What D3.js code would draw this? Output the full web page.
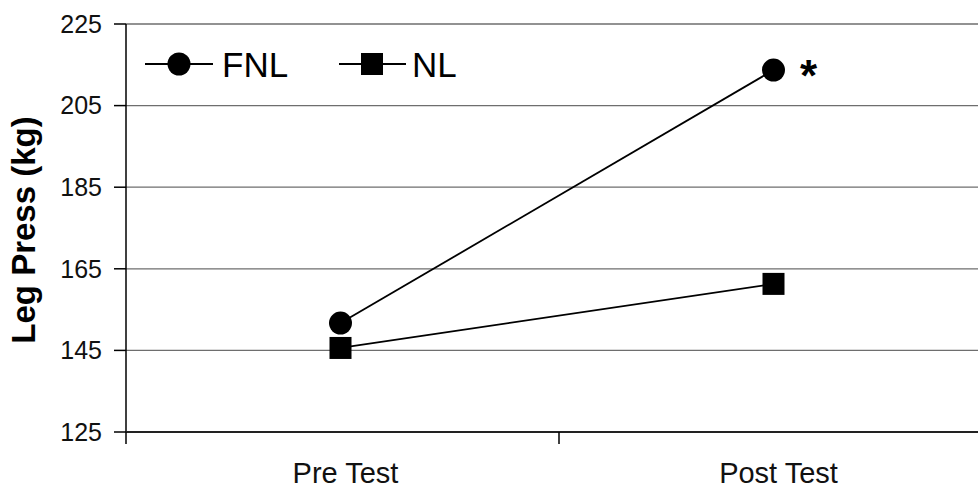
<!DOCTYPE html>
<html>
<head>
<meta charset="utf-8">
<script src="https://cdn.jsdelivr.net/npm/d3@7"></script>
<style>
  body { margin: 0; background: #fff; }
  svg { display: block; font-family: "Liberation Sans", Arial, sans-serif; }
</style>
</head>
<body>
<div id="chart"></div>
<script>
// Leg press pre/post, two groups
const phases = ['Pre Test', 'Post Test'];
const fnl = [151.7, 213.7];
const nl = [145.6, 161.3];
const yTicks = [125, 145, 165, 185, 205, 225];

const width = 978, height = 488;
const margin = { top: 24, right: -14, bottom: 56, left: 126 };
const innerW = width - margin.left - margin.right;
const innerH = height - margin.top - margin.bottom;

const svg = d3.select('#chart').append('svg')
  .attr('width', width).attr('height', height);
const g = svg.append('g').attr('transform', `translate(${margin.left},${margin.top})`);

const x = d3.scaleBand().domain(phases).range([0, innerW]);
const y = d3.scaleLinear().domain([125, 225]).range([innerH, 0]);

// gridlines
g.selectAll('line.grid').data(yTicks.slice(1)).join('line')
  .attr('class', 'grid')
  .attr('x1', 0).attr('x2', width - margin.left)
  .attr('y1', (d) => y(d)).attr('y2', (d) => y(d))
  .attr('stroke', '#6e6e6e').attr('stroke-width', 1.3);

// y axis
g.append('line').attr('x1', 0).attr('x2', 0).attr('y1', 0).attr('y2', innerH)
  .attr('stroke', '#000').attr('stroke-width', 1.5);
const yt = g.selectAll('g.yt').data(yTicks).join('g')
  .attr('transform', (d) => `translate(0,${y(d)})`);
yt.append('line').attr('x1', -12).attr('x2', 0).attr('stroke', '#000').attr('stroke-width', 1.5);
yt.append('text').attr('x', -24).attr('dy', '0.35em').attr('text-anchor', 'end')
  .attr('font-size', 25).attr('fill', '#111').text((d) => d);

// x axis
g.append('line').attr('x1', 0).attr('x2', width - margin.left).attr('y1', innerH).attr('y2', innerH)
  .attr('stroke', '#222').attr('stroke-width', 2);
const xEdges = [0, x.step()];
g.selectAll('line.xt').data(xEdges).join('line')
  .attr('class', 'xt')
  .attr('x1', (d) => d).attr('x2', (d) => d)
  .attr('y1', innerH).attr('y2', innerH + 12)
  .attr('stroke', '#000').attr('stroke-width', 1.5);
g.selectAll('text.xl').data(phases).join('text')
  .attr('class', 'xl')
  .attr('x', (d) => x(d) + x.bandwidth() / 2 + 3)
  .attr('y', innerH + 51)
  .attr('text-anchor', 'middle').attr('font-size', 29).attr('fill', '#111')
  .text((d) => d);

// y label
svg.append('text')
  .attr('transform', `translate(35,${margin.top + innerH / 2 + 2}) rotate(-90)`)
  .attr('text-anchor', 'middle').attr('font-size', 33).attr('font-weight', 'bold')
  .text('Leg Press (kg)');

const cx = (i) => x(phases[i]) + x.bandwidth() / 2 - 2;
const line = d3.line().x((d, i) => cx(i)).y((d) => y(d));

[fnl, nl].forEach((s) => {
  g.append('path').datum(s).attr('d', line)
    .attr('fill', 'none').attr('stroke', '#000').attr('stroke-width', 1.8);
});

g.selectAll('circle.fnl').data(fnl).join('circle')
  .attr('class', 'fnl')
  .attr('cx', (d, i) => cx(i)).attr('cy', (d) => y(d)).attr('r', 11.5).attr('fill', '#000');
g.selectAll('rect.nl').data(nl).join('rect')
  .attr('class', 'nl')
  .attr('x', (d, i) => cx(i) - 11).attr('y', (d) => y(d) - 11)
  .attr('width', 22).attr('height', 22).attr('fill', '#000');

// significance marker
g.append('text').attr('x', cx(1) + 35).attr('y', y(fnl[1]) + 21)
  .attr('text-anchor', 'middle').attr('font-size', 44).attr('font-weight', 'bold').text('*');

// legend
const legend = svg.append('g').attr('transform', 'translate(0,64)');
legend.append('line').attr('x1', 145).attr('x2', 213).attr('stroke', '#000').attr('stroke-width', 1.8);
legend.append('circle').attr('cx', 179).attr('r', 11.5).attr('fill', '#000');
legend.append('text').attr('x', 222).attr('dy', '0.36em').attr('font-size', 35).text('FNL');
legend.append('line').attr('x1', 339).attr('x2', 406).attr('stroke', '#000').attr('stroke-width', 1.8);
legend.append('rect').attr('x', 361).attr('y', -11).attr('width', 22).attr('height', 22).attr('fill', '#000');
legend.append('text').attr('x', 412).attr('dy', '0.36em').attr('font-size', 35).text('NL');
</script>
</body>
</html>
